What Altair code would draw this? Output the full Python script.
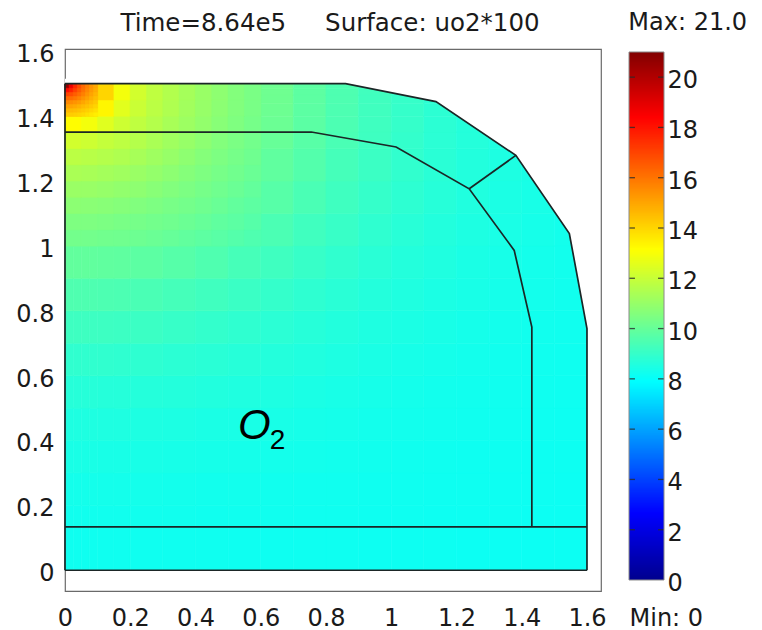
import altair as alt
import pandas as pd

# ---------------- data ----------------
# coarse sampling of the surface (whole domain); cell edges
x_edges = [0, 0.025, 0.05, 0.075, 0.1, 0.15, 0.2, 0.3, 0.4, 0.5, 0.6, 0.7,
           0.8, 0.9, 1.0, 1.1, 1.2, 1.3, 1.4, 1.5, 1.6]
y_edges = [0, 0.1335, 0.2, 0.3, 0.4, 0.5, 0.6, 0.7, 0.8, 0.9, 1.0, 1.1, 1.2,
           1.3, 1.351, 1.4, 1.44, 1.465, 1.485, 1.5]

# surface values uo2*100, one list per row of cells, bottom row first
field_rows = [
    [8.19, 8.19, 8.19, 8.19, 8.19, 8.19, 8.19, 8.18, 8.18, 8.17, 8.17, 8.16, 8.16, 8.15, 8.15, 8.14, 8.13, 8.13, 8.12, 8.12],
    [8.23, 8.23, 8.23, 8.23, 8.23, 8.23, 8.23, 8.22, 8.21, 8.20, 8.20, 8.19, 8.18, 8.17, 8.16, 8.15, 8.15, 8.14, 8.13, 8.12],
    [8.29, 8.29, 8.29, 8.29, 8.29, 8.28, 8.28, 8.27, 8.25, 8.24, 8.23, 8.21, 8.20, 8.19, 8.18, 8.17, 8.16, 8.15, 8.14, 8.13],
    [8.38, 8.38, 8.38, 8.38, 8.37, 8.37, 8.36, 8.34, 8.32, 8.30, 8.28, 8.26, 8.24, 8.22, 8.20, 8.19, 8.17, 8.16, 8.15, 8.14],
    [8.50, 8.50, 8.50, 8.50, 8.49, 8.49, 8.48, 8.45, 8.42, 8.39, 8.36, 8.32, 8.30, 8.27, 8.24, 8.22, 8.20, 8.18, 8.17, 8.15],
    [8.65, 8.65, 8.65, 8.65, 8.64, 8.64, 8.62, 8.59, 8.55, 8.51, 8.47, 8.42, 8.37, 8.32, 8.29, 8.25, 8.23, 8.20, 8.18, 8.17],
    [8.87, 8.87, 8.87, 8.87, 8.86, 8.85, 8.82, 8.77, 8.72, 8.65, 8.59, 8.53, 8.47, 8.41, 8.35, 8.30, 8.26, 8.23, 8.20, 8.18],
    [9.15, 9.15, 9.15, 9.14, 9.13, 9.12, 9.08, 9.01, 8.93, 8.85, 8.75, 8.66, 8.58, 8.50, 8.43, 8.36, 8.31, 8.26, 8.23, 8.20],
    [9.50, 9.50, 9.49, 9.49, 9.47, 9.44, 9.39, 9.29, 9.19, 9.07, 8.95, 8.82, 8.71, 8.60, 8.52, 8.43, 8.36, 8.30, 8.26, 8.22],
    [9.90, 9.90, 9.89, 9.88, 9.86, 9.83, 9.77, 9.65, 9.50, 9.32, 9.17, 9.01, 8.86, 8.72, 8.60, 8.51, 8.42, 8.35, 8.29, 8.25],
    [10.35, 10.35, 10.34, 10.33, 10.30, 10.26, 10.19, 10.03, 9.83, 9.63, 9.41, 9.20, 9.02, 8.85, 8.70, 8.58, 8.48, 8.40, 8.32, 8.27],
    [10.90, 10.89, 10.88, 10.86, 10.82, 10.75, 10.60, 10.40, 10.18, 9.90, 9.66, 9.40, 9.18, 8.97, 8.80, 8.65, 8.54, 8.44, 8.36, 8.29],
    [11.55, 11.54, 11.52, 11.49, 11.42, 11.31, 11.10, 10.80, 10.47, 10.18, 9.86, 9.58, 9.30, 9.09, 8.88, 8.72, 8.58, 8.48, 8.38, 8.31],
    [12.20, 12.18, 12.12, 12.05, 11.90, 11.76, 11.48, 11.08, 10.67, 10.32, 10.00, 9.69, 9.39, 9.15, 8.93, 8.75, 8.61, 8.50, 8.40, 8.32],
    [13.20, 13.15, 13.00, 12.80, 12.50, 12.10, 11.70, 11.22, 10.80, 10.40, 10.07, 9.74, 9.44, 9.18, 8.96, 8.77, 8.62, 8.51, 8.41, 8.32],
    [14.60, 14.45, 14.20, 13.85, 13.20, 12.50, 11.82, 11.34, 10.87, 10.45, 10.12, 9.77, 9.46, 9.20, 8.97, 8.78, 8.63, 8.51, 8.41, 8.32],
    [15.95, 15.60, 15.10, 14.55, 13.80, 12.75, 11.93, 11.39, 10.90, 10.47, 10.14, 9.78, 9.48, 9.20, 8.98, 8.78, 8.63, 8.52, 8.41, 8.32],
    [17.40, 16.55, 15.70, 14.90, 14.00, 12.90, 11.98, 11.41, 10.92, 10.48, 10.15, 9.79, 9.48, 9.21, 8.98, 8.78, 8.63, 8.52, 8.41, 8.32],
    [19.80, 17.10, 15.95, 15.10, 14.10, 12.95, 12.00, 11.42, 10.92, 10.48, 10.15, 9.79, 9.48, 9.21, 8.98, 8.78, 8.63, 8.52, 8.41, 8.32],
]

# finer sampling of the upper-left part, [0, 0.6] x [1.0, 1.5]
fx_edges = [0, 0.05, 0.1, 0.15, 0.2, 0.25, 0.3, 0.35, 0.4, 0.45, 0.5, 0.55, 0.6]
fy_edges = [1.0, 1.05, 1.1, 1.15, 1.2, 1.25, 1.3, 1.351, 1.4, 1.45, 1.5]
fine_rows = [
    [10.25, 10.24, 10.21, 10.18, 10.12, 10.05, 9.97, 9.88, 9.79, 9.70, 9.61, 9.50],
    [10.47, 10.46, 10.42, 10.37, 10.31, 10.25, 10.18, 10.08, 9.97, 9.86, 9.76, 9.65],
    [10.75, 10.72, 10.68, 10.61, 10.53, 10.45, 10.35, 10.26, 10.16, 10.04, 9.90, 9.78],
    [11.05, 11.02, 10.97, 10.89, 10.79, 10.67, 10.55, 10.43, 10.31, 10.19, 10.06, 9.91],
    [11.37, 11.33, 11.26, 11.16, 11.05, 10.92, 10.77, 10.61, 10.46, 10.32, 10.20, 10.05],
    [11.72, 11.67, 11.59, 11.47, 11.31, 11.15, 10.98, 10.80, 10.62, 10.45, 10.30, 10.17],
    [12.20, 12.10, 11.91, 11.76, 11.58, 11.38, 11.17, 10.98, 10.78, 10.58, 10.40, 10.25],
    [13.17, 12.90, 12.49, 12.10, 11.81, 11.58, 11.34, 11.10, 10.90, 10.68, 10.49, 10.31],
    [14.70, 14.15, 13.30, 12.53, 12.03, 11.73, 11.47, 11.21, 10.99, 10.76, 10.55, 10.36],
    [17.00, 15.30, 14.00, 12.90, 12.20, 11.81, 11.54, 11.27, 11.03, 10.80, 10.58, 10.39],
]

# finest sampling at the hot corner, [0, 0.1] x [1.4, 1.5]
cx_edges = [0, 0.0125, 0.025, 0.0375, 0.05, 0.0625, 0.075, 0.0875, 0.1]
cy_edges = [1.4, 1.4125, 1.425, 1.4375, 1.45, 1.4625, 1.475, 1.4875, 1.5]
corner_rows = [
    [14.18, 14.15, 14.10, 14.01, 13.90, 13.77, 13.62, 13.45],
    [14.56, 14.52, 14.46, 14.36, 14.24, 14.09, 13.93, 13.74],
    [15.04, 14.99, 14.89, 14.74, 14.55, 14.40, 14.21, 14.01],
    [15.58, 15.50, 15.35, 15.18, 14.96, 14.71, 14.48, 14.26],
    [16.20, 16.10, 15.90, 15.64, 15.34, 15.05, 14.75, 14.47],
    [16.99, 16.79, 16.44, 16.10, 15.73, 15.34, 15.00, 14.65],
    [18.18, 17.70, 17.06, 16.50, 16.05, 15.60, 15.19, 14.82],
    [20.60, 18.70, 17.57, 16.80, 16.20, 15.72, 15.29, 14.90],
]

# subdomain boundaries
outer_x = [0, 0.86, 1.137, 1.382, 1.546, 1.6, 1.6]
outer_y = [1.5, 1.5, 1.445, 1.279, 1.038, 0.745, 0]
inner_x = [0, 0.755, 1.015, 1.239, 1.377, 1.431, 1.431]
inner_y = [1.351, 1.351, 1.305, 1.176, 0.986, 0.75, 0.1335]
link_x = [1.239, 1.382]
link_y = [1.176, 1.279]
strip_x = [0, 1.6]
strip_y = [0.1335, 0.1335]
base_x = [0, 1.6]
base_y = [0, 0]
left_x = [0, 0]
left_y = [0, 1.5]

# axes / colour bar
x_ticks = [0, 0.2, 0.4, 0.6, 0.8, 1, 1.2, 1.4, 1.6]
y_ticks = [0, 0.2, 0.4, 0.6, 0.8, 1, 1.2, 1.4, 1.6]
x_range = [0, 1.643]
y_range = [-0.064, 1.607]
cbar_ticks = [0, 2, 4, 6, 8, 10, 12, 14, 16, 18, 20]
v_min, v_max = 0, 21.0
cbar_range = [-0.4375, 21.119]

jet_stops = [0, 2.625, 7.875, 13.125, 18.375, 21]
jet_colors = ["#00008f", "#0000ff", "#00ffff", "#ffff00", "#ff0000", "#800000"]

title_text = "Time=8.64e5\u00a0\u00a0\u00a0\u00a0\u00a0Surface: uo2*100"
label_text = "O"
label_sub = "2"
label_pos = (0.53, 0.405)
label_sub_pos = (0.628, 0.374)

# ---------------- tables ----------------
cells = []
for xe, ye, rows in [(x_edges, y_edges, field_rows),
                     (fx_edges, fy_edges, fine_rows),
                     (cx_edges, cy_edges, corner_rows)]:
    for j, row in enumerate(rows):
        for i, v in enumerate(row):
            cells.append({"x0": xe[i], "x1": xe[i + 1],
                          "y0": ye[j], "y1": ye[j + 1], "v": v})
cell_df = pd.DataFrame(cells)

seg_rows = []
for name, xs_, ys_ in [("outer", outer_x, outer_y), ("inner", inner_x, inner_y),
                       ("link", link_x, link_y), ("strip", strip_x, strip_y),
                       ("base", base_x, base_y), ("left", left_x, left_y)]:
    for k, (a, b) in enumerate(zip(xs_, ys_)):
        seg_rows.append({"seg": name, "k": k, "x": a, "y": b})
seg_df = pd.DataFrame(seg_rows)

# white cover for the cells that lie outside the rounded outer boundary
mask_top = 1.515
mask_pad = 0.008
mask_df = pd.DataFrame({"x": outer_x[0:6] + [outer_x[5] + mask_pad],
                        "y": outer_y[0:6] + [outer_y[5]],
                        "top": [mask_top] * 7})

txt_df = pd.DataFrame([{"x": label_pos[0], "y": label_pos[1], "t": label_text}])
sub_df = pd.DataFrame([{"x": label_sub_pos[0], "y": label_sub_pos[1], "t": label_sub}])

tick_rows = []
for t in cbar_ticks[1:]:
    tick_rows.append({"t": t, "a": 0, "b": 0.17})
    tick_rows.append({"t": t, "a": 0.83, "b": 1})
tick_df = pd.DataFrame(tick_rows)
frame_df = pd.DataFrame([{"a": 0, "b": 1, "lo": v_min, "hi": v_max}])

# ---------------- scales / axes ----------------
FONT = "DejaVu Sans"
TXT = "#1a1a1a"
jet = alt.Scale(domain=jet_stops, range=jet_colors, interpolate="rgb")
xs = alt.Scale(domain=x_range, nice=False, zero=False)
ys = alt.Scale(domain=y_range, nice=False, zero=False)

x_axis = alt.Axis(values=x_ticks, format="~g", grid=False, ticks=False, domain=False,
                  labelFont=FONT, labelFontSize=24, labelColor=TXT, labelPadding=15,
                  labelFlush=False, labelOverlap=False, title=None)
y_axis = alt.Axis(values=y_ticks, format="~g", grid=False, ticks=False, domain=False,
                  labelFont=FONT, labelFontSize=24, labelColor=TXT, labelPadding=11,
                  labelOffset=3.5, labelFlush=False, labelOverlap=False, title=None)

surf = alt.Chart(cell_df).mark_rect(strokeWidth=0.6).encode(
    x=alt.X("x0:Q", scale=xs, axis=x_axis, title=None),
    x2="x1:Q",
    y=alt.Y("y0:Q", scale=ys, axis=y_axis, title=None),
    y2="y1:Q",
    color=alt.Color("v:Q", scale=jet, legend=None),
    stroke=alt.Stroke("v:Q", scale=jet, legend=None),
)

mask = alt.Chart(mask_df).mark_area(color="white", opacity=1).encode(
    x=alt.X("x:Q", scale=xs, title=None),
    y=alt.Y("y:Q", scale=ys, title=None),
    y2="top:Q",
)

edges = alt.Chart(seg_df).mark_line(color="#1b2626", strokeWidth=1.7).encode(
    x=alt.X("x:Q", scale=xs, title=None),
    y=alt.Y("y:Q", scale=ys, title=None),
    detail="seg:N",
    order="k:Q",
)

lab = alt.Chart(txt_df).mark_text(font="Liberation Sans", fontStyle="italic", fontSize=42,
                                  align="left", baseline="alphabetic", color="#000000").encode(
    x=alt.X("x:Q", scale=xs, title=None), y=alt.Y("y:Q", scale=ys, title=None), text="t:N")
sub = alt.Chart(sub_df).mark_text(font="Liberation Sans", fontSize=28,
                                  align="left", baseline="alphabetic", color="#000000").encode(
    x=alt.X("x:Q", scale=xs, title=None), y=alt.Y("y:Q", scale=ys, title=None), text="t:N")

main = alt.layer(surf, mask, edges, lab, sub).properties(
    width=536, height=542,
    title=alt.Title(title_text, anchor="middle", fontSize=24.5, fontWeight="normal",
                    font=FONT, color=TXT, baseline="alphabetic", offset=-13, dx=-3),
)

# ---------------- colour bar ----------------
cbx = alt.Scale(domain=[0, 1], nice=False, zero=False)
cby = alt.Scale(domain=cbar_range, nice=False, zero=False)
cb_xaxis = alt.Axis(labels=False, ticks=False, domain=False, grid=False, title="Min: 0",
                    titleFont=FONT, titleFontSize=24, titleFontWeight="normal", titleColor=TXT,
                    titleAnchor="start", titleAlign="left", titlePadding=15)
cb_yaxis = alt.Axis(orient="right", values=cbar_ticks, grid=False, ticks=False, domain=False,
                    labelFont=FONT, labelFontSize=24, labelColor=TXT, labelPadding=3,
                    labelOffset=3.5, labelFlush=False, labelOverlap=False, title=None)

ramp = alt.Chart(alt.sequence(v_min, v_max, 0.05, as_="v")).transform_calculate(
    v2="min(datum.v + 0.08, 21)", a="0", b="1"
).mark_rect().encode(
    x=alt.X("a:Q", scale=cbx, axis=cb_xaxis),
    x2="b:Q",
    y=alt.Y("v:Q", scale=cby, axis=cb_yaxis),
    y2="v2:Q",
    color=alt.Color("v:Q", scale=jet, legend=None),
)
cticks = alt.Chart(tick_df).mark_rule(color="#2a2a2a", strokeWidth=1.3, opacity=0.8).encode(
    x=alt.X("a:Q", scale=cbx), x2="b:Q", y=alt.Y("t:Q", scale=cby))
cframe = alt.Chart(frame_df).mark_rect(fillOpacity=0, stroke="#8a8a8a", strokeWidth=1).encode(
    x=alt.X("a:Q", scale=cbx), x2="b:Q", y=alt.Y("lo:Q", scale=cby), y2="hi:Q")

cbar = alt.layer(ramp, cticks, cframe).properties(
    width=35, height=542,
    view=alt.ViewBackground(stroke="transparent"),
    title=alt.Title("Max: 21.0", anchor="start", fontSize=24, fontWeight="normal",
                    font=FONT, color=TXT, baseline="alphabetic", offset=-5),
)

chart = alt.hconcat(main, cbar, spacing=28, bounds="flush").properties(
    padding={"left": 15, "top": 10, "right": 6, "bottom": 0}
).configure_view(stroke="#6a6a6a", strokeWidth=1.2)

chart.save("out.html", embed_options={"renderer": "svg", "actions": False})
